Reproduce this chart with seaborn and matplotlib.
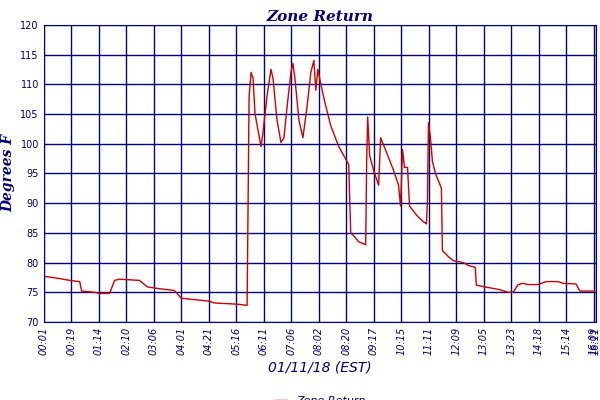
import matplotlib
matplotlib.use("Agg")
import matplotlib.pyplot as plt
import seaborn as sns
import pandas as pd

tick_labels = ["00:01","00:19","01:14","02:10","03:06","04:01","04:21","05:16","06:11","07:06",
               "08:02","08:20","09:17","10:15","11:11","12:09","13:05","13:23","14:18","15:14","16:09","16:11"]
tick_pos = [0,1,2,3,4,5,6,7,8,9,10,11,12,13,14,15,16,17,18,19,20,20.07]

sample = [0,16,26,36,38,51,56,66,71,76,96,104,116,131,138,166,171,194,204,205,206,208,210,212,218,220,224,228,230,234,
          238,241,244,248,250,252,256,260,264,268,271,273,275,278,282,288,296,301,306,308,311,316,323,324,325,327,331,336,338,344,
          351,356,358,360,362,365,367,374,380,384,385,386,388,390,393,399,400,406,411,421,426,433,434,446,456,466,471,476,481,486,
          496,504,516,521,534,538,553]
temp = [77.7,77.3,77,76.8,75.2,75,74.8,74.8,77,77.2,77,75.9,75.6,75.3,74,73.5,73.2,73,72.8,90,108,112,111,105,99.5,102,108,112.5,111,104,
        100.2,101,106,112,113.5,111,104,101,106,112,114,109,112.5,110,107,103,99.5,98,96.5,85,84.5,83.5,83,97,104.5,98,95.5,93,101,98.5,
        95.5,93,89.5,99,96,96,89.5,88,87,86.5,90.5,103.5,101,97,95,92.5,82,81,80.3,80,79.5,79.2,76.2,75.8,75.5,75,75,76.3,76.5,76.3,
        76.3,76.8,76.8,76.5,76.4,75.2,75.2]

df = pd.DataFrame({"x": [s / 27.6 for s in sample], "Zone Return": temp})

sns.set_style("white")
navy = "#000080"
fig, ax = plt.subplots(figsize=(6, 4), dpi=100)
fig.subplots_adjust(left=0.073, right=0.993, top=0.938, bottom=0.195)
sns.lineplot(data=df, x="x", y="Zone Return", color="#cc0000", lw=1, ax=ax, label="Zone Return")
ax.set_xlim(0, 20.07)
ax.set_ylim(70, 120)
ax.set_yticks(range(70, 121, 5))
ax.set_xticks(tick_pos)
ax.set_xticklabels(tick_labels, rotation=90, fontsize=7, color=navy, style="italic")
ax.tick_params(axis="y", labelsize=7, colors=navy, length=0)
ax.tick_params(axis="x", length=0, colors=navy)
ax.grid(True, color=navy, lw=1)
for s in ax.spines.values():
    s.set_color(navy)
ax.set_title("Zone Return", color=navy, style="italic", fontweight="bold", fontsize=11, family="DejaVu Serif", pad=3)
ax.set_xlabel("01/11/18 (EST)", color=navy, style="italic", fontsize=10, labelpad=4)
ax.set_ylabel("Degrees F", color=navy, style="italic", fontweight="bold", fontsize=10, family="DejaVu Serif")
leg = ax.legend(loc="upper center", bbox_to_anchor=(0.5, -0.215), frameon=False, fontsize=8, handlelength=1.2)
for t in leg.get_texts():
    t.set_color(navy); t.set_style("italic")
fig.savefig("out.png", dpi=100)
